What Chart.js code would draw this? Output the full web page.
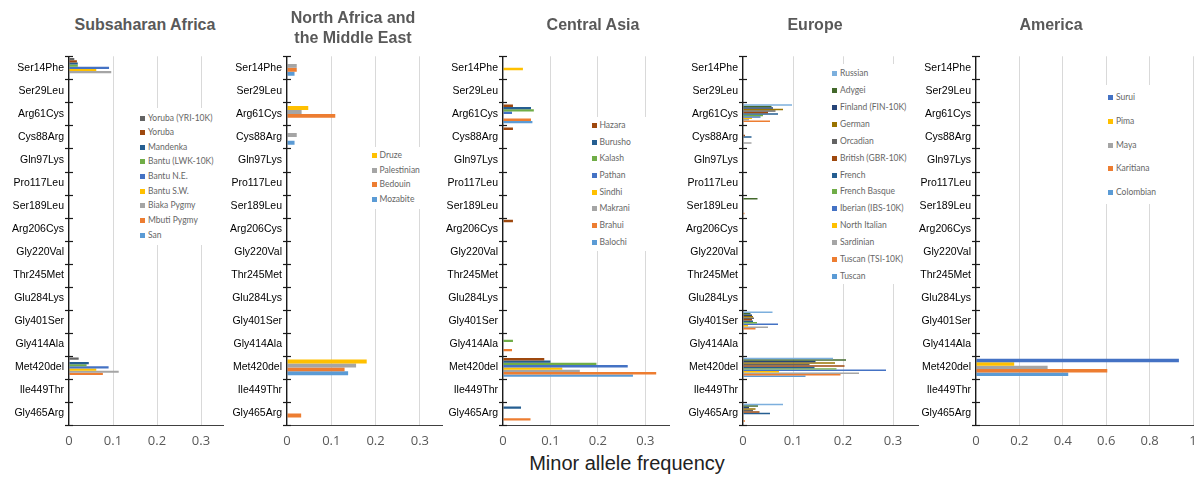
<!DOCTYPE html>
<html>
<head>
<meta charset="utf-8">
<script src="https://cdn.jsdelivr.net/npm/chart.js@4.4.1/dist/chart.umd.min.js"></script>
<style>
  body { margin: 0; background: #fff; }
  #wrap { position: relative; width: 1202px; height: 477px; overflow: hidden; font-family: 'Liberation Sans', Arial, sans-serif; }
  canvas { position: absolute; }
  .title { position: absolute; font-weight: bold; font-size: 16px; line-height: 20px; color: #595959; text-align: center; white-space: nowrap; transform: translateX(-50%); }
  .legend { position: absolute; background: #fff; font-family: Lato, 'Open Sans', sans-serif; font-size: 8.5px; color: #666; }
  .legend div { position: absolute; white-space: nowrap; line-height: 10px; }
  .legend span { display: inline-block; width: 5px; height: 5px; margin-right: 3px; vertical-align: 0px; }
  #xtitle { position: absolute; left: 0; width: 1254px; top: 451px; text-align: center; font-size: 20px; line-height: 24px; color: #222; }
</style>
</head>
<body>
<div id="wrap"><div id="xtitle">Minor allele frequency</div></div>
<script>
// variants on the y axis (top to bottom)
const variants = ['Ser14Phe', 'Ser29Leu', 'Arg61Cys', 'Cys88Arg', 'Gln97Lys', 'Pro117Leu', 'Ser189Leu', 'Arg206Cys',
  'Gly220Val', 'Thr245Met', 'Glu284Lys', 'Gly401Ser', 'Gly414Ala', 'Met420del', 'Ile449Thr', 'Gly465Arg'];

const freqTicks = [0, 0.1, 0.2, 0.3];
const americaTicks = [0, 0.2, 0.4, 0.6, 0.8, 1];

// one row per population, columns follow `variants`
const africaPops = ['Yoruba (YRI-10K)', 'Yoruba', 'Mandenka', 'Bantu (LWK-10K)', 'Bantu N.E.', 'Bantu S.W.', 'Biaka Pygmy', 'Mbuti Pygmy', 'San'];
const africaValues = [
  [0.012, 0, 0, 0, 0, 0, 0, 0, 0, 0, 0, 0, 0, 0.022, 0, 0],
  [0.018, 0, 0, 0, 0, 0, 0, 0, 0, 0, 0, 0, 0, 0, 0, 0],
  [0.020, 0, 0, 0, 0, 0, 0, 0, 0, 0, 0, 0, 0, 0.045, 0, 0],
  [0.020, 0, 0, 0, 0, 0, 0, 0, 0, 0, 0, 0, 0, 0.040, 0, 0],
  [0.091, 0, 0, 0, 0, 0, 0, 0, 0, 0, 0, 0, 0, 0.090, 0, 0],
  [0.062, 0, 0, 0, 0, 0, 0, 0, 0, 0, 0, 0, 0, 0.062, 0, 0],
  [0.096, 0, 0, 0, 0, 0, 0, 0, 0, 0, 0, 0, 0, 0.113, 0, 0],
  [0, 0, 0, 0, 0, 0, 0, 0, 0, 0, 0, 0, 0, 0.077, 0, 0],
  [0, 0, 0, 0, 0, 0, 0, 0, 0, 0, 0, 0, 0, 0, 0, 0]
];

const meaPops = ['Druze', 'Palestinian', 'Bedouin', 'Mozabite'];
const meaValues = [
  [0, 0, 0.048, 0, 0, 0, 0, 0, 0, 0, 0, 0, 0, 0.180, 0, 0],
  [0.022, 0, 0.033, 0.022, 0, 0, 0, 0, 0, 0, 0, 0, 0, 0.156, 0, 0],
  [0.022, 0, 0.109, 0, 0, 0, 0, 0, 0, 0, 0, 0, 0, 0.130, 0, 0.032],
  [0.017, 0, 0, 0.017, 0, 0, 0, 0, 0, 0, 0, 0, 0, 0.138, 0, 0]
];

const asiaPops = ['Hazara', 'Burusho', 'Kalash', 'Pathan', 'Sindhi', 'Makrani', 'Brahui', 'Balochi'];
const asiaValues = [
  [0, 0, 0.021, 0.021, 0, 0, 0, 0.021, 0, 0, 0, 0, 0, 0.087, 0, 0],
  [0, 0, 0.059, 0, 0, 0, 0, 0, 0, 0, 0, 0, 0, 0.100, 0, 0.038],
  [0, 0, 0.065, 0, 0, 0, 0, 0, 0, 0, 0, 0, 0.021, 0.197, 0, 0],
  [0, 0, 0.019, 0, 0, 0, 0, 0, 0, 0, 0, 0, 0, 0.263, 0, 0],
  [0.042, 0, 0, 0, 0, 0, 0, 0, 0, 0, 0, 0, 0, 0.125, 0, 0],
  [0, 0, 0, 0, 0, 0, 0, 0, 0, 0, 0, 0, 0, 0.162, 0, 0],
  [0, 0, 0.059, 0, 0, 0, 0, 0, 0, 0, 0, 0, 0.019, 0.323, 0, 0.058],
  [0, 0, 0.062, 0, 0, 0, 0, 0, 0, 0, 0, 0, 0, 0.274, 0, 0]
];

const europePops = ['Russian', 'Adygei', 'Finland (FIN-10K)', 'German', 'Orcadian', 'British (GBR-10K)', 'French',
  'French Basque', 'Iberian (IBS-10K)', 'North Italian', 'Sardinian', 'Tuscan (TSI-10K)', 'Tuscan'];
const europeValues = [
  [0, 0, 0.098, 0, 0, 0, 0, 0, 0, 0, 0, 0.059, 0, 0.180, 0, 0.080],
  [0, 0, 0.057, 0, 0, 0, 0.029, 0, 0, 0, 0, 0.015, 0, 0.206, 0, 0.030],
  [0, 0, 0.060, 0, 0, 0, 0, 0, 0, 0, 0, 0.018, 0, 0.145, 0, 0.012],
  [0, 0, 0.080, 0, 0, 0, 0, 0, 0, 0, 0, 0.020, 0, 0.184, 0, 0.025],
  [0, 0, 0.065, 0, 0, 0, 0, 0, 0, 0, 0, 0.022, 0, 0.133, 0, 0.020],
  [0, 0, 0.050, 0.004, 0, 0, 0, 0, 0, 0, 0, 0.018, 0, 0.203, 0, 0.033],
  [0, 0, 0.070, 0.017, 0, 0, 0, 0, 0, 0, 0, 0.020, 0, 0.143, 0, 0.054],
  [0, 0, 0.040, 0, 0, 0, 0, 0, 0, 0, 0, 0.028, 0, 0.187, 0, 0],
  [0, 0, 0.035, 0, 0, 0, 0, 0, 0, 0, 0, 0.070, 0, 0.286, 0, 0],
  [0, 0, 0.018, 0, 0, 0, 0, 0, 0, 0, 0, 0.010, 0, 0.072, 0, 0],
  [0, 0, 0.012, 0.017, 0, 0, 0, 0, 0, 0, 0, 0.050, 0, 0.232, 0, 0],
  [0, 0, 0.054, 0, 0, 0, 0.003, 0, 0, 0, 0, 0.025, 0, 0.195, 0, 0.004],
  [0, 0, 0, 0, 0, 0, 0, 0, 0, 0, 0, 0, 0, 0.125, 0, 0]
];

const americaPops = ['Surui', 'Pima', 'Maya', 'Karitiana', 'Colombian'];
const americaValues = [
  [0, 0, 0, 0, 0, 0, 0, 0, 0, 0, 0, 0, 0, 0.935, 0, 0],
  [0, 0, 0, 0, 0, 0, 0, 0, 0, 0, 0, 0, 0, 0.176, 0, 0],
  [0, 0, 0, 0, 0, 0, 0, 0, 0, 0, 0, 0, 0, 0.330, 0, 0],
  [0, 0, 0, 0, 0, 0, 0, 0, 0, 0, 0, 0, 0, 0.605, 0, 0],
  [0, 0, 0, 0, 0, 0, 0, 0, 0, 0, 0, 0, 0, 0.425, 0, 0]
];

// excel office palette
const C = {
  blue: '#5B9BD5', orange: '#ED7D31', gray: '#A5A5A5', gold: '#FFC000', blue2: '#4472C4', green: '#70AD47',
  dblue: '#255E91', brown: '#9E480E', dgray: '#636363', dgold: '#997300', navy: '#264478', dgreen: '#43682B', lblue: '#7CAFDD'
};

const panels = [
  { title: 'Subsaharan Africa', tx: 145, ty: 15, pops: africaPops, values: africaValues,
    colors: [C.dgray, C.brown, C.dblue, C.green, C.blue2, C.gold, C.gray, C.orange, C.blue],
    axisX: 69, axisEnd: 223, max: 0.35, ticks: freqTicks, cat: 0.85, padR: 8,
    legend: { box: [135, 108, 83, 137], sq: 140, first: 117.5, step: 14.66 } },
  { title: 'North Africa and<br>the Middle East', tx: 353, ty: 8, pops: meaPops, values: meaValues,
    colors: [C.gold, C.gray, C.orange, C.blue],
    axisX: 287, axisEnd: 442, max: 0.35, ticks: freqTicks, cat: 0.68, padR: 8,
    legend: { box: [366, 147, 70, 62], sq: 371.5, first: 155, step: 14.6 } },
  { title: 'Central Asia', tx: 593, ty: 15, pops: asiaPops, values: asiaValues,
    colors: [C.brown, C.dblue, C.green, C.blue2, C.gold, C.gray, C.orange, C.blue],
    axisX: 503, axisEnd: 669, max: 0.35, ticks: freqTicks, cat: 0.81, padR: 8,
    legend: { box: [586, 117, 78, 134], sq: 591.5, first: 125, step: 16.67 } },
  { title: 'Europe', tx: 815, ty: 15, pops: europePops, values: europeValues,
    colors: [C.lblue, C.dgreen, C.navy, C.dgold, C.dgray, C.brown, C.dblue, C.green, C.blue2, C.gold, C.gray, C.orange, C.blue],
    axisX: 743, axisEnd: 918, max: 0.35, ticks: freqTicks, cat: 0.84, padR: 8,
    legend: { box: [828, 64, 88, 220], sq: 832, first: 73.3, step: 16.87 } },
  { title: 'America', tx: 1051, ty: 15, pops: americaPops, values: americaValues,
    colors: [C.blue2, C.gold, C.gray, C.orange, C.blue],
    axisX: 976, axisEnd: 1193, max: 1, ticks: americaTicks, cat: 0.75, padR: 12,
    legend: { box: [1100, 85, 80, 119], sq: 1108, first: 97.3, step: 23.7 } }
];

const Y_W = 66, PAD_T = 10, X_H = 30, TOP = 45, PLOT_H = 370;
const wrap = document.getElementById('wrap');

// excel style "cross" tick marks on the category axis
const crossTicks = {
  id: 'crossTicks',
  afterDraw(chart) {
    const { ctx, chartArea: a } = chart;
    const y = chart.scales.y;
    const n = y.ticks.length;
    const step = (a.bottom - a.top) / n;
    ctx.save();
    ctx.strokeStyle = '#1a1a1a';
    ctx.lineWidth = 1.2;
    for (let i = 0; i <= n; i++) {
      const yy = Math.round(a.top + i * step) + 0.5;
      ctx.beginPath();
      ctx.moveTo(a.left - 4, yy);
      ctx.lineTo(a.left + 4, yy);
      ctx.stroke();
    }
    ctx.restore();
  }
};

panels.forEach(p => {
  const cv = document.createElement('canvas');
  const w = Y_W + (p.axisEnd - p.axisX) + p.padR;
  const h = PAD_T + PLOT_H + X_H;
  cv.width = w; cv.height = h;
  cv.style.width = w + 'px'; cv.style.height = h + 'px';
  cv.style.left = (p.axisX - Y_W) + 'px';
  cv.style.top = TOP + 'px';
  wrap.appendChild(cv);

  new Chart(cv, {
    type: 'bar',
    data: {
      labels: variants,
      datasets: p.pops.map((name, i) => ({
        label: name,
        data: p.values[i],
        backgroundColor: p.colors[i],
        borderWidth: 0,
        categoryPercentage: p.cat,
        barPercentage: 1
      }))
    },
    options: {
      indexAxis: 'y',
      responsive: false,
      animation: false,
      layout: { padding: { top: PAD_T, right: p.padR, left: 0, bottom: 0 } },
      plugins: { legend: { display: false }, tooltip: { enabled: false } },
      scales: {
        y: {
          grid: { display: false, drawTicks: false },
          border: { display: true, color: '#1a1a1a', width: 1.3, z: 1 },
          ticks: { autoSkip: false, padding: 5, color: '#000', font: { family: 'Liberation Sans', size: 10.5 } },
          afterFit: s => { s.width = Y_W; }
        },
        x: {
          min: 0,
          max: p.max,
          grid: { color: '#d9d9d9', drawTicks: false },
          border: { color: '#404040', width: 1 },
          ticks: {
            padding: 8,
            color: '#595959',
            font: { family: 'Open Sans', size: 13 },
            callback: v => String(+v.toFixed(2))
          },
          afterBuildTicks: s => { s.ticks = p.ticks.map(v => ({ value: v })); },
          afterFit: s => { s.height = X_H; }
        }
      }
    },
    plugins: [crossTicks]
  });

  const t = document.createElement('div');
  t.className = 'title';
  t.style.left = p.tx + 'px';
  t.style.top = p.ty + 'px';
  t.innerHTML = p.title;
  wrap.appendChild(t);

  const L = p.legend;
  const lg = document.createElement('div');
  lg.className = 'legend';
  lg.style.left = L.box[0] + 'px';
  lg.style.top = L.box[1] + 'px';
  lg.style.width = L.box[2] + 'px';
  lg.style.height = L.box[3] + 'px';
  p.pops.forEach((name, i) => {
    const it = document.createElement('div');
    it.style.left = (L.sq - L.box[0]) + 'px';
    it.style.top = (L.first + i * L.step - L.box[1] - 5) + 'px';
    it.innerHTML = '<span style="background:' + p.colors[i] + '"></span>' + name;
    lg.appendChild(it);
  });
  wrap.appendChild(lg);
});
</script>
</body>
</html>
